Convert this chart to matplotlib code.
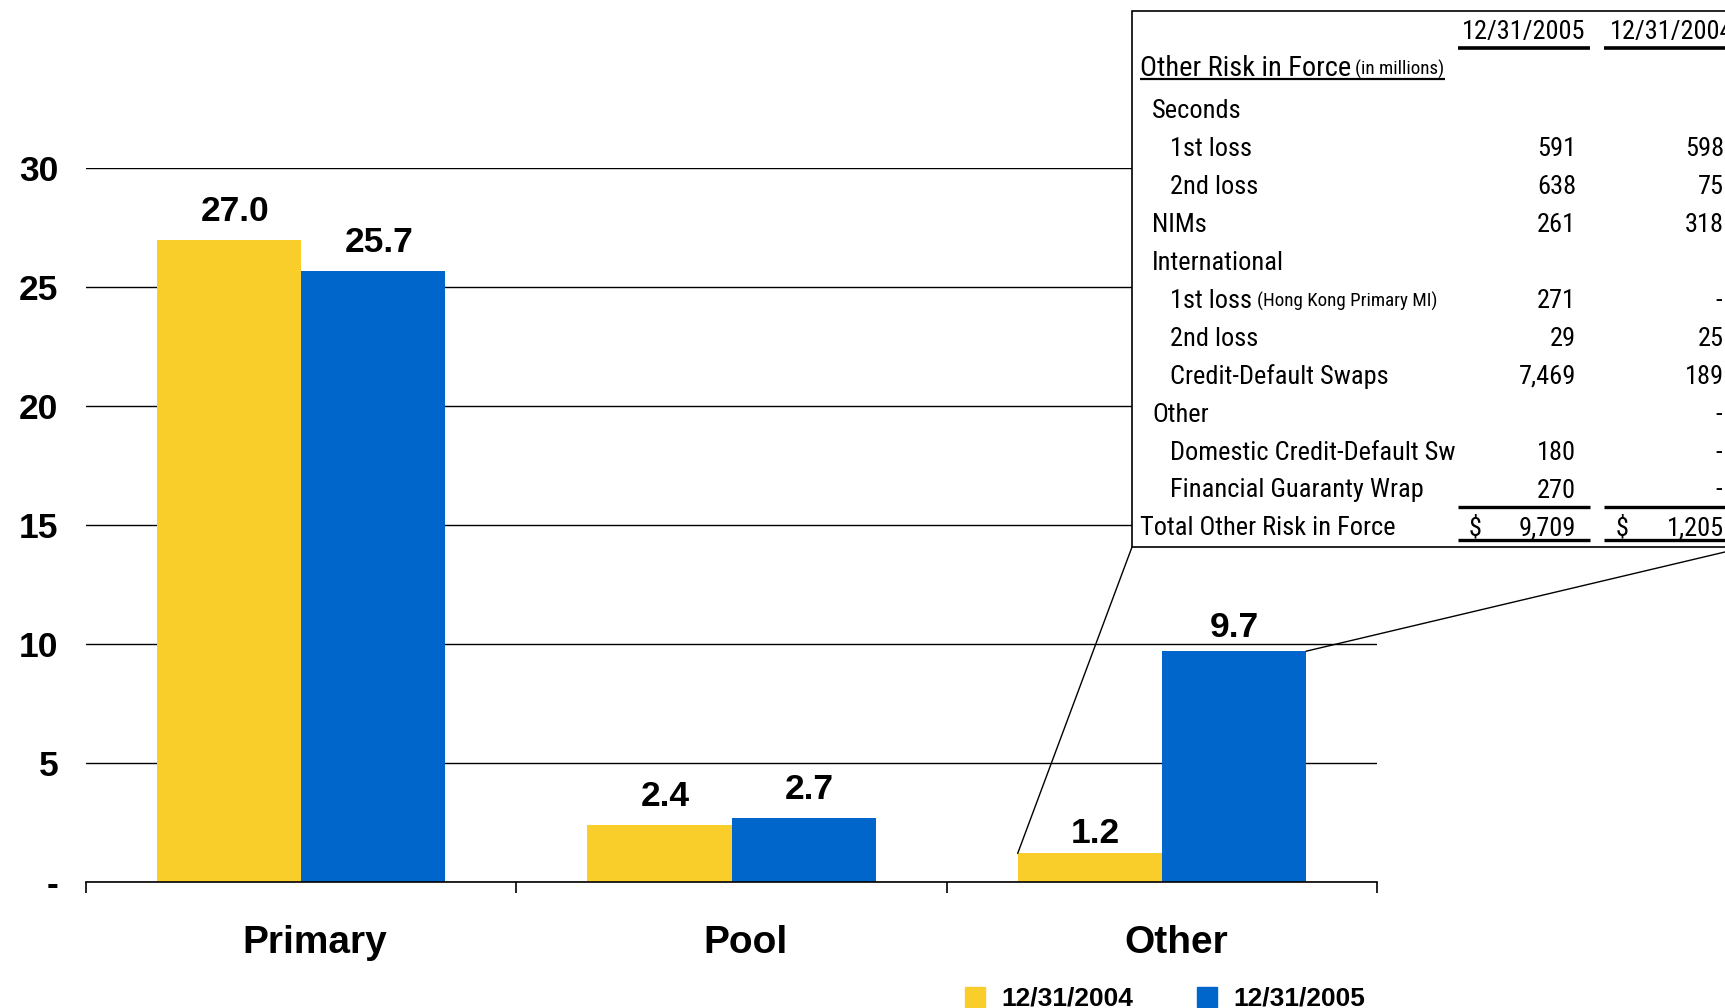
import matplotlib
matplotlib.use("Agg")
import matplotlib.pyplot as plt
from matplotlib import font_manager
from matplotlib.patches import Rectangle, ConnectionPatch, Patch
import numpy as np

# ---- chart data (billions) ----
categories = ["Primary", "Pool", "Other"]
series_names = ["12/31/2004", "12/31/2005"]
risk_2004 = [27.0, 2.4, 1.2]
risk_2005 = [25.7, 2.7, 9.7]
y_ticks = [0, 5, 10, 15, 20, 25, 30]
y_tick_labels = ["-", "5", "10", "15", "20", "25", "30"]

# ---- inset table data (millions) ----
table_columns = ["12/31/2005", "12/31/2004"]
table_title = "Other Risk in Force"
table_title_note = "(in millions)"
table_rows = ["Seconds", "1st loss", "2nd loss", "NIMs", "International",
              "1st loss", "2nd loss", "Credit-Default Swaps", "Other",
              "Domestic Credit-Default Sw", "Financial Guaranty Wrap"]
table_row_notes = ["", "", "", "", "", "(Hong Kong Primary MI)", "", "", "", "", ""]
table_indent = [1, 2, 2, 1, 1, 2, 2, 2, 1, 2, 2]
table_2005 = [None, 591, 638, 261, None, 271, 29, 7469, None, 180, 270]
table_2004 = [None, 598, 75, 318, None, 0, 25, 189, 0, 0, 0]
table_total_label = "Total Other Risk in Force"
table_total = [9709, 1205]

YELLOW = "#F9CD2A"
BLUE = "#0066CC"

W, H = 1725, 1008
plt.rcParams["font.family"] = ["Liberation Sans", "DejaVu Sans"]
fig = plt.figure(figsize=(W / 100, H / 100), dpi=100)

# ---- main bar chart ----
ax = fig.add_axes([86 / W, (H - 882) / H, (1377 - 86) / W, (882 - 168.3) / H])
x = np.arange(len(categories))
bw = 0.335
bars04 = ax.bar(x - bw / 2, risk_2004, bw, color=YELLOW, label=series_names[0], zorder=2)
bars05 = ax.bar(x + bw / 2, risk_2005, bw, color=BLUE, label=series_names[1], zorder=2)

ax.set_xlim(-0.5, 2.5)
ax.set_ylim(0, 30)
ax.set_yticks(y_ticks)
ax.set_yticklabels(y_tick_labels, fontsize=25.5, fontweight="bold")
ax.tick_params(axis="y", length=0, pad=20)
ax.yaxis.grid(True, color="black", linewidth=1.0)
ax.set_axisbelow(True)
for s in ("left", "right", "top"):
    ax.spines[s].set_visible(False)
ax.spines["bottom"].set_linewidth(1.2)
ax.set_xticks([])
ax.set_xticks([-0.5, 0.5, 1.5, 2.5], minor=True)
ax.tick_params(axis="x", which="minor", length=8, width=1.2, direction="out")
ax.tick_params(axis="x", which="minor", labelbottom=False)

for i, cat in enumerate(categories):
    ax.annotate(cat, (x[i], 0), xytext=(14, -71), textcoords="offset pixels",
                ha="center", va="baseline", fontsize=28, fontweight="bold")

# value labels; the pair over "Other" sits lower to clear the callout lines
label_offsets = {
    (0, 0): (6, 19), (0, 1): (6, 19), (0, 2): (6, 10),
    (1, 0): (6, 19), (1, 1): (6, 19), (1, 2): (0, 14),
}
for s_idx, (bars, vals) in enumerate(((bars04, risk_2004), (bars05, risk_2005))):
    for c_idx, (b, v) in enumerate(zip(bars, vals)):
        ax.annotate(f"{v:.1f}", (b.get_x() + b.get_width() / 2, v),
                    xytext=label_offsets[(s_idx, c_idx)],
                    textcoords="offset pixels", ha="center", va="baseline",
                    fontsize=25.5, fontweight="bold")

handles = [Patch(color=YELLOW), Patch(color=BLUE)]
fig.legend(handles, series_names, loc="lower left",
           bbox_to_anchor=(965 / W, -3 / H), ncol=2, frameon=False,
           prop={"size": 19, "weight": "bold"}, handlelength=0.76, handleheight=0.76,
           handletextpad=0.63, columnspacing=2.4, borderpad=0, borderaxespad=0)

# ---- inset table, drawn in figure-pixel coordinates ----
ov = fig.add_axes([0, 0, 1, 1])
ov.set_xlim(0, W)
ov.set_ylim(H, 0)
ov.axis("off")
ov.set_zorder(5)

names = {f.name for f in font_manager.fontManager.ttflist}
narrow = None
for name in ["Liberation Sans Narrow", "Roboto Condensed", "Open Sans Condensed",
             "DejaVu Sans Condensed"]:
    if name in names:
        narrow = {"family": name}
        break
if narrow is None:
    if any(f.name == "DejaVu Sans" and "condensed" in str(f.stretch)
           for f in font_manager.fontManager.ttflist):
        narrow = {"family": "DejaVu Sans", "stretch": "condensed"}
    else:
        narrow = {"family": "Liberation Sans"}

renderer = fig.canvas.get_renderer()


def text_width(s, size, **kw):
    t = fig.text(0, 0, s, fontsize=size, **narrow, **kw)
    w = t.get_window_extent(renderer).width
    t.remove()
    return w


fs = min(20.5, 20 * 218 / text_width("Credit-Default Swaps", 20))
fs_title = min(23, 20 * 211 / text_width(table_title, 20))
fs_small = fs * 0.72

box = Rectangle((1132, 11), 1746 - 1132, 547 - 11, facecolor="white",
                edgecolor="black", linewidth=1.2, zorder=1)
ov.add_patch(box)

col_right = [1576, 1724]
col_rule = [(1458, 1590), (1604, 1730)]
col_center = [1524, 1672]
dollar_x = [1475, 1622]

# column headers
for j, lab in enumerate(table_columns):
    ov.text(col_center[j], 30, lab, ha="center", va="center_baseline", fontsize=fs, **narrow)
    ov.plot(col_rule[j], [48, 48], color="black", lw=2.6, solid_capstyle="butt")

# table title with underline
t1 = ov.text(1140, 66, table_title, ha="left", va="center_baseline",
             fontsize=fs_title, **narrow)
x_end = 1140 + t1.get_window_extent(renderer).width + 4
t2 = ov.text(x_end, 67, table_title_note, ha="left", va="center_baseline",
             fontsize=fs_small, **narrow)
x_end += t2.get_window_extent(renderer).width
ov.plot([1140, x_end], [79, 79], color="black", lw=1.6, solid_capstyle="butt")

indent_x = {0: 1140, 1: 1152, 2: 1170}
row_y0, row_dy = 109, 37.9
for i, lab in enumerate(table_rows):
    y = row_y0 + i * row_dy
    t = ov.text(indent_x[table_indent[i]], y, lab, ha="left", va="center_baseline",
                fontsize=fs, **narrow)
    if table_row_notes[i]:
        xe = indent_x[table_indent[i]] + t.get_window_extent(renderer).width + 5
        ov.text(xe, y + 1, table_row_notes[i], ha="left", va="center_baseline",
                fontsize=fs_small, **narrow)
    for j, vals in enumerate((table_2005, table_2004)):
        v = vals[i]
        if v is None:
            continue
        if v == 0:
            ov.text(col_right[j] - 2, y, "-", ha="right", va="center_baseline",
                    fontsize=fs, **narrow)
        else:
            ov.text(col_right[j], y, f"{v:,}", ha="right", va="center_baseline",
                    fontsize=fs, **narrow)

y_tot = row_y0 + len(table_rows) * row_dy
ov.text(1140, y_tot, table_total_label, ha="left", va="center_baseline", fontsize=fs, **narrow)
for j, v in enumerate(table_total):
    ov.text(dollar_x[j], y_tot, "$", ha="center", va="center_baseline", fontsize=fs, **narrow)
    ov.text(col_right[j], y_tot, f"{v:,}", ha="right", va="center_baseline", fontsize=fs, **narrow)
    ov.plot(col_rule[j], [507, 507], color="black", lw=2.4, solid_capstyle="butt")
    ov.plot(col_rule[j], [540, 540], color="black", lw=2.4, solid_capstyle="butt")

# callout lines from the "Other" bars to the table box
cp_left = ConnectionPatch(xyA=(x[2] - bw, risk_2004[2]), coordsA=ax.transData,
                          xyB=(1132, 547), coordsB=ov.transData, color="black", lw=1.0)
cp_right = ConnectionPatch(xyA=(x[2] + bw, risk_2005[2]), coordsA=ax.transData,
                           xyB=(1746, 547), coordsB=ov.transData, color="black", lw=1.0)
ov.add_artist(cp_left)
ov.add_artist(cp_right)

fig.savefig("out.png", dpi=100)
